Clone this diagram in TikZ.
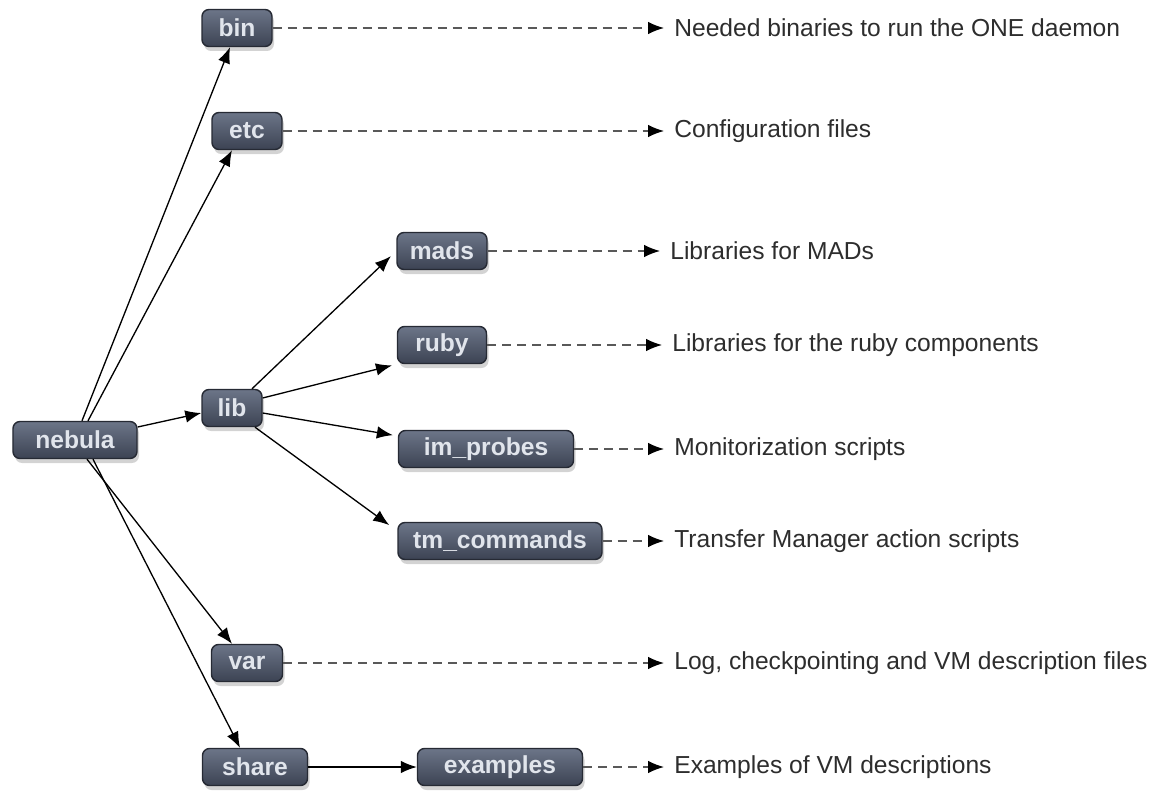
\documentclass[tikz,border=0pt]{standalone}
\usepackage{fontspec}
\setmainfont{Liberation Sans}
\usepackage{tikz}
\usetikzlibrary{arrows.meta, shadows}

\definecolor{boxtop}{RGB}{108,117,136}
\definecolor{boxbot}{RGB}{60,67,83}
\definecolor{boxline}{RGB}{38,42,52}
\definecolor{boxtext}{RGB}{225,229,236}
\definecolor{desctext}{RGB}{45,45,45}

\begin{document}
\begin{tikzpicture}[
    x=0.2mm, y=-0.2mm,
    dirbox/.style={rectangle, rounded corners=4pt, draw=boxline, line width=0.8pt, top color=boxtop, bottom color=boxbot, text=boxtext, font=\fontsize{14}{16}\selectfont\bfseries, minimum height=7.4mm, inner xsep=2pt, drop shadow={shadow xshift=0.4mm, shadow yshift=-0.9mm, opacity=0.35}},
    desc/.style={anchor=west, inner xsep=2mm, text=desctext, font=\fontsize{14}{17}\selectfont},
    arrow/.style={-{Latex[length=3.2mm, width=2.5mm]}, line width=0.75pt},
    dasharrow/.style={-{Latex[length=3.2mm, width=2.5mm, color=black]}, line width=0.75pt, draw=black!65, dash pattern=on 1.8mm off 1.2mm},
]
\useasboundingbox (0,0) rectangle (1163,792);

% Directories
\node[dirbox, minimum width=24.8mm] (nebula) at (75, 440) {nebula};
\node[dirbox, minimum width=14mm] (bin) at (237, 28) {bin};
\node[dirbox, minimum width=14mm] (etc) at (247, 131) {etc};
\node[dirbox, minimum width=12mm] (lib) at (232, 408) {lib};
\node[dirbox, minimum width=14.2mm] (var) at (247, 663) {var};
\node[dirbox, minimum width=21mm] (share) at (255, 767) {share};

\node[dirbox, minimum width=18mm] (mads) at (442, 251) {mads};
\node[dirbox, minimum width=17.8mm] (ruby) at (442, 345) {ruby};
\node[dirbox, minimum width=35mm] (improbes) at (486, 449) {im\_probes};
\node[dirbox, minimum width=40.8mm] (tmcommands) at (500, 541) {tm\_commands};
\node[dirbox, minimum width=33mm] (examples) at (500, 767) {examples};

% Descriptions
\node[desc] (dbin) at (664, 28) {Needed binaries to run the ONE daemon};
\node[desc] (detc) at (664, 131) {Configuration files};
\node[desc] (dmads) at (660, 251) {Libraries for MADs};
\node[desc] (druby) at (662, 345) {Libraries for the ruby components};
\node[desc] (dimprobes) at (664, 449) {Monitorization scripts};
\node[desc] (dtmcommands) at (664, 541) {Transfer Manager action scripts};
\node[desc] (dvar) at (664, 663) {Log, checkpointing and VM description files};
\node[desc] (dexamples) at (664, 767) {Examples of VM descriptions};

% Tree
\draw[arrow] ([xshift=1.4mm]nebula.north) -- ([xshift=-1.4mm]bin.south);
\draw[arrow] ([xshift=2.6mm]nebula.north) -- ([xshift=-3mm]etc.south);
\draw[arrow] ([yshift=2.6mm]nebula.east) -- ([yshift=-1mm]lib.west);
\draw[arrow] ([xshift=2.4mm]nebula.south) -- ([xshift=-3mm]var.north);
\draw[arrow] ([xshift=3.6mm]nebula.south) -- ([xshift=-3mm]share.north);

\draw[arrow, shorten >=1.5mm] ([xshift=4mm]lib.north) -- (mads.west);
\draw[arrow, shorten >=1mm] ([yshift=2mm]lib.east) -- (ruby.south west);
\draw[arrow, shorten >=1mm] ([yshift=-1mm]lib.east) -- ([yshift=2.6mm]improbes.west);
\draw[arrow, shorten >=2mm] ([xshift=4.6mm]lib.south) -- ([yshift=2mm]tmcommands.west);

\draw[arrow] (share) -- (examples);

% Descriptions links
\foreach \d in {bin, etc, mads, ruby, improbes, tmcommands, var, examples}
    \draw[dasharrow] (\d.east) -- (d\d.west);

\end{tikzpicture}
\end{document}
